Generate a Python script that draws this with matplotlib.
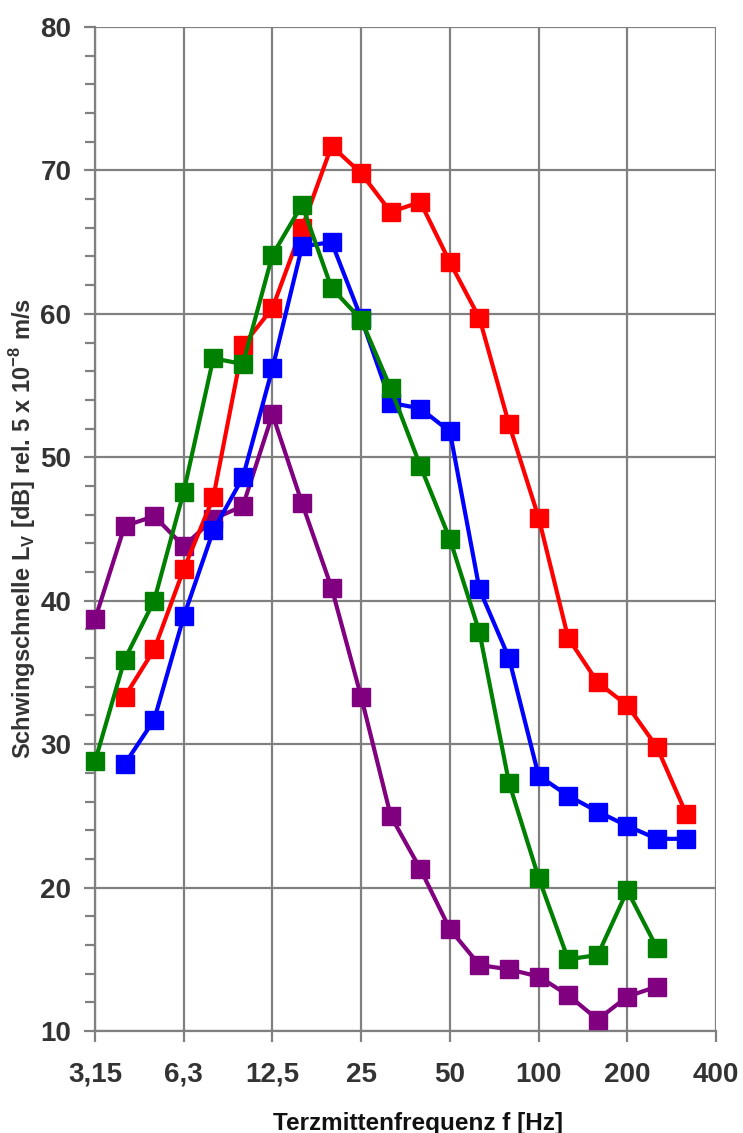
import matplotlib
matplotlib.use("Agg")
import matplotlib.pyplot as plt
import numpy as np

# Terzbänder (Index-Achse)
bands = ["3,15", "4", "5", "6,3", "8", "10", "12,5", "16", "20", "25", "31,5",
         "40", "50", "63", "80", "100", "125", "160", "200", "250", "315", "400"]
tick_labels = ["3,15", "6,3", "12,5", "25", "50", "100", "200", "400"]

purple = [38.7, 45.2, 45.9, 43.8, 45.7, 46.6, 53.0, 46.8, 40.9, 33.3, 25.0,
          21.3, 17.1, 14.6, 14.3, 13.8, 12.5, 10.8, 12.4, 13.1]
green = [28.8, 35.9, 40.0, 47.6, 56.9, 56.5, 64.1, 67.6, 61.8, 59.6, 54.8,
         49.4, 44.3, 37.8, 27.3, 20.7, 15.0, 15.3, 19.8, 15.8]
# blau und rot beginnen bei 4 Hz
blue = [28.6, 31.7, 38.9, 44.9, 48.6, 56.2, 64.7, 65.0, 59.7, 53.8,
        53.4, 51.8, 40.8, 36.0, 27.8, 26.4, 25.3, 24.3, 23.4, 23.4]
red = [33.3, 36.6, 42.2, 47.2, 57.8, 60.4, 66.0, 71.7, 69.8, 67.1,
       67.8, 63.6, 59.7, 52.3, 45.8, 37.4, 34.3, 32.7, 29.8, 25.1]

plt.rcParams['font.family'] = ['Liberation Sans', 'DejaVu Sans']
plt.rcParams['font.weight'] = 'bold'

fig = plt.figure(figsize=(7.43, 11.33), dpi=100)
ax = fig.add_axes([0.1279, 0.0900, 0.8358, 0.8862])

grid_c = '#808080'
txt_c = '#333333'

series = [(purple, 0, '#800080'), (red, 1, '#ff0000'),
          (blue, 1, '#0000ff'), (green, 0, '#008000')]
for vals, start, col in series:
    x = np.arange(start, start + len(vals))
    ax.plot(x, vals, color=col, lw=3, marker='s', ms=13,
            markeredgecolor=col, zorder=3, clip_on=False)

ax.set_xlim(0, 21)
ax.set_ylim(10, 80)
ax.set_xticks(np.arange(0, 22, 3))
ax.set_xticklabels(tick_labels)
ax.set_yticks(np.arange(10, 81, 10))
ax.set_yticks(np.arange(10, 81, 2), minor=True)

ax.grid(True, which='major', color=grid_c, lw=1.6, zorder=0)
for s in ['top', 'right']:
    ax.spines[s].set_visible(False)
for s in ['left', 'bottom']:
    ax.spines[s].set_color(grid_c)
    ax.spines[s].set_linewidth(1.6)

ax.tick_params(axis='both', which='both', color=grid_c, width=1.6,
               labelcolor=txt_c, direction='out')
ax.tick_params(axis='y', which='major', length=8, labelsize=20, pad=9)
ax.tick_params(axis='y', which='minor', length=7)
ax.tick_params(axis='x', which='major', length=8, labelsize=20, pad=14)

ax.set_ylabel(r'Schwingschnelle L$_\mathregular{V}$ [dB] rel. 5 x 10$^\mathregular{-8}$ m/s',
              fontsize=17, fontweight='bold', color=txt_c, labelpad=2)
ax.set_xlabel('Terzmittenfrequenz f [Hz]', fontsize=17.5, fontweight='bold',
              color='#111111', va='baseline')
ax.xaxis.set_label_coords(0.52, -0.0986)

fig.savefig('out.png', dpi=100)
